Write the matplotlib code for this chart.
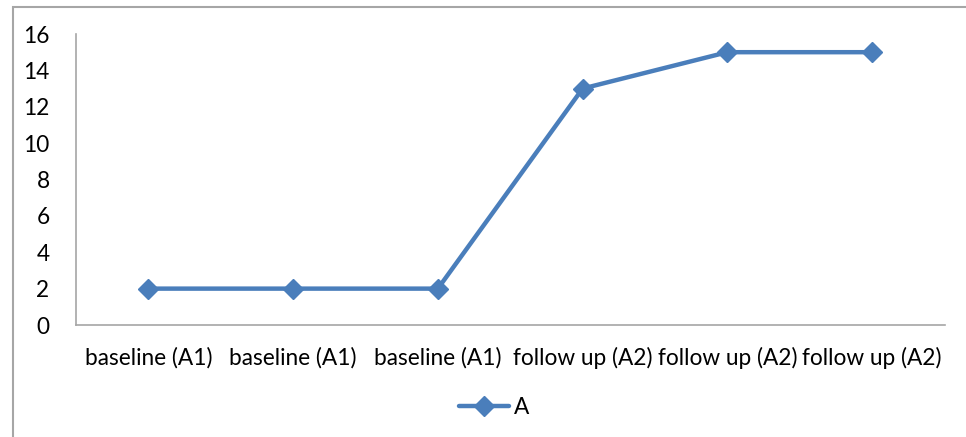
import matplotlib
matplotlib.use("Agg")
import matplotlib.pyplot as plt
from matplotlib.patches import Rectangle

categories = ["baseline (A1)", "baseline (A1)", "baseline (A1)",
              "follow up (A2)", "follow up (A2)", "follow up (A2)"]
values_A = [2, 2, 2, 13, 15, 15]
series_name = "A"
y_ticks = [0, 2, 4, 6, 8, 10, 12, 14, 16]

plt.rcParams['font.family'] = ['Lato', 'DejaVu Sans']

W, H = 966, 437
fig = plt.figure(figsize=(W / 100, H / 100), dpi=100)

# outer chart border (only left/top visible in reference)
fig.add_artist(Rectangle((13 / W, -0.1), 1.2, 1 - 7 / H + 0.1,
                         transform=fig.transFigure, fill=False,
                         edgecolor="#a6a6a6", linewidth=1.5))

ax = fig.add_axes([76 / W, 1 - 325 / H, (944.5 - 76) / W, (325 - 34) / H])
x = list(range(len(categories)))
ax.plot(x, values_A, color="#4a7ebb", linewidth=3.2, marker="D",
        markersize=10, label=series_name, solid_capstyle="round")

ax.set_xlim(-0.5, len(categories) - 0.5)
ax.set_ylim(0, 16)
ax.set_yticks(y_ticks)
ax.set_xticks(x)
ax.set_xticklabels(categories)
ax.tick_params(axis="both", length=0, labelsize=16.3, colors="#000000")
ax.tick_params(axis="x", pad=16)
ax.tick_params(axis="y", pad=19)
for s in ["top", "right"]:
    ax.spines[s].set_visible(False)
for s in ["left", "bottom"]:
    ax.spines[s].set_color("#a6a6a6")
    ax.spines[s].set_linewidth(1.2)

fig.legend(loc="center", bbox_to_anchor=(494 / W, 1 - 407 / H), frameon=False,
           fontsize=16.3, handlelength=2.2, handletextpad=0.2)

fig.savefig("out.png", dpi=100)
